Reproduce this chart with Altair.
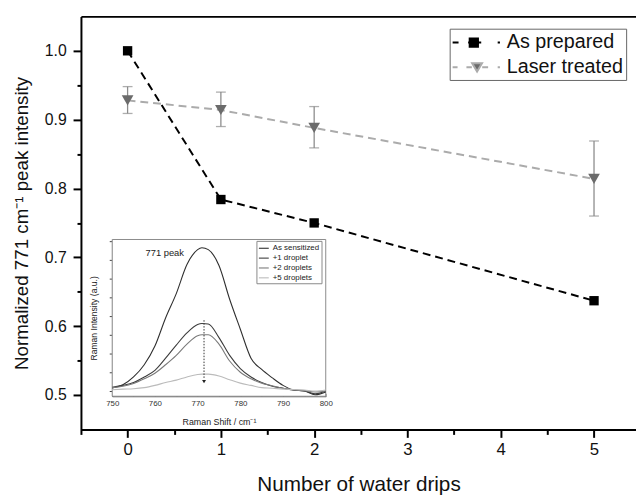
import altair as alt
import pandas as pd

FONT = "Liberation Sans"

# ---------------- main data ----------------
drips = [0, 1, 2, 5]
as_prepared = [1.000, 0.784, 0.750, 0.637]
laser_treated = [0.928, 0.914, 0.888, 0.814]
laser_lo = [0.909, 0.890, 0.859, 0.760]
laser_hi = [0.948, 0.940, 0.919, 0.869]
series_names = ["As prepared", "Laser treated"]

x_ticks = [-0.5, 0, 0.5, 1, 1.5, 2, 2.5, 3, 3.5, 4, 4.5, 5]
y_ticks = [0.5, 0.55, 0.6, 0.65, 0.7, 0.75, 0.8, 0.85, 0.9, 0.95, 1.0]
x_domain = [-0.5, 5.45]
y_domain = [0.45, 1.05]

# ---------------- inset data ----------------
raman_shift = [750, 752.5, 755, 757.5, 760, 762.5, 765, 767.5, 770, 771, 772.5,
               775, 777.5, 780, 782.5, 785, 787.5, 790, 792.5, 795, 797.5, 800]
as_sensitized = [0.16, 0.33, 0.75, 1.4, 2.4, 3.9, 5.2, 6.75, 7.55, 7.65, 7.55,
                 6.7, 4.9, 3.3, 1.75, 1.15, 0.7, 0.3, 0.05, 0.0, -0.2, -0.05]
plus1 = [0.2, 0.3, 0.45, 0.75, 1.1, 1.75, 2.45, 3.1, 3.55, 3.6, 3.58,
         2.85, 1.9, 1.2, 0.75, 0.45, 0.25, 0.15, 0.05, 0.0, -0.15, 0.0]
plus2 = [0.18, 0.25, 0.4, 0.65, 0.95, 1.4, 1.9, 2.5, 2.95, 3.0, 3.0,
         2.5, 1.6, 1.0, 0.65, 0.42, 0.28, 0.15, 0.05, 0.02, -0.05, 0.0]
plus5 = [0.07, 0.1, 0.12, 0.18, 0.3, 0.45, 0.58, 0.75, 0.88, 0.9, 0.9,
         0.8, 0.6, 0.42, 0.3, 0.18, 0.15, 0.1, 0.08, 0.05, 0.0, 0.05]
inset_series = ["As sensitized", "+1 droplet", "+2 droplets", "+5 droplets"]
inset_colors = ["#2e2e2e", "#3c3c3c", "#7a7a7a", "#bbbbbb"]
inset_x_domain = [750, 800]
inset_y_domain = [-0.28, 8.09]
inset_x_ticks = [750, 755, 760, 765, 770, 775, 780, 785, 790, 795, 800]
inset_x_labels = [750, 760, 770, 780, 790, 800]
inset_y_ticks = [0, 1, 2, 3, 4, 5, 6, 7, 8]
arrow_shift = [771.5]
arrow_top = [3.78]
arrow_bottom = [0.62]
arrow_head = [0.5]
peak_label = ["771 peak"]
peak_label_x = [762.3]
peak_label_y = [7.37]

# ---------------- frames ----------------
ap_df = pd.DataFrame({"drips": drips, "value": as_prepared})
lt_df = pd.DataFrame({"drips": drips, "value": laser_treated, "lo": laser_lo, "hi": laser_hi})
caps_df = pd.DataFrame({"drips": drips + drips, "value": laser_lo + laser_hi})
legend_df = pd.DataFrame({"series": series_names})

rows = []
for name, vals in zip(inset_series, [as_sensitized, plus1, plus2, plus5]):
    for s, v in zip(raman_shift, vals):
        rows.append({"shift": s, "intensity": v, "spectrum": name})
inset_df = pd.DataFrame(rows)
frame_df = pd.DataFrame({"x0": [inset_x_domain[0]], "x1": [inset_x_domain[1]],
                         "y0": [inset_y_domain[0]], "y1": [inset_y_domain[1]]})
arrow_df = pd.DataFrame({"shift": arrow_shift, "top": arrow_top, "bottom": arrow_bottom,
                         "head": arrow_head})
label_df = pd.DataFrame({"shift": peak_label_x, "y": peak_label_y, "text": peak_label})

# ---------------- scales / axes ----------------
xs = alt.Scale(domain=x_domain, nice=False, zero=False)
ys = alt.Scale(domain=y_domain, nice=False, zero=False)


def X(axis=None, field="drips:Q"):
    return alt.X(field, scale=xs, axis=axis)


def Y(axis=None, field="value:Q"):
    return alt.Y(field, scale=ys, axis=axis)


main_x_axis = alt.Axis(
    orient="bottom", values=x_ticks,
    tickSize={"condition": {"test": "datum.value % 1 === 0", "value": 8}, "value": 5},
    tickWidth=2, tickColor="black", domainColor="black", domainWidth=2,
    labelExpr="datum.value % 1 === 0 ? format(datum.value, 'd') : ''",
    labelFontSize=17, labelFont=FONT, labelColor="#111", labelPadding=4,
    labelFlush=False, labelOverlap=False,
    title="Number of water drips", titleFontSize=21, titleFont=FONT,
    titleFontWeight="normal", titleColor="#111", titlePadding=17, grid=False)

main_y_axis = alt.Axis(
    orient="left", values=y_ticks,
    tickSize={"condition": {"test": "abs(datum.value*10 - round(datum.value*10)) < 0.001", "value": 8}, "value": 4},
    tickWidth=2, tickColor="black", domainColor="black", domainWidth=2,
    labelExpr="abs(datum.value*10 - round(datum.value*10)) < 0.001 ? format(datum.value, '.1f') : ''",
    labelFontSize=16, labelFont=FONT, labelColor="#111", labelPadding=7,
    labelFlush=False, labelOverlap=False,
    title="Normalized 771 cm\u207b\u00b9 peak intensity", titleFontSize=19, titleFont=FONT,
    titleFontWeight="normal", titleColor="#111", titlePadding=13, grid=False)

top_axis = alt.Axis(orient="top", ticks=False, labels=False, domain=True,
                    domainColor="black", domainWidth=2, title=None, grid=False)

ap_path = "M-1.1,0L-0.5,0M0.47,0L1.8,0M0.63,-0.42L1.47,-0.42L1.47,0.42L0.63,0.42ZM3.47,0L3.7,0"
lt_path = "M-1.1,0L-0.6,0M0.3,0L0.85,0M1.9,0L2.5,0M0.88,-0.4L1.88,-0.4L1.38,0.45ZM3.47,0L3.7,0"

main_legend = alt.Legend(
    orient="none", legendX=374, legendY=12.5, title=None,
    labelFontSize=20, labelFont=FONT, labelColor="#111", labelLimit=400,
    symbolSize=400, symbolStrokeWidth=2, labelOffset=33,
    padding=3, rowPadding=4, strokeColor="#666666", fillColor="white")

# ---------------- main layers ----------------
l_ap = alt.Chart(ap_df).mark_line(color="black", strokeWidth=2, strokeDash=[8, 5]).encode(
    x=X(main_x_axis), y=Y(main_y_axis))
l_lt = alt.Chart(lt_df).mark_line(color="#ababab", strokeWidth=2, strokeDash=[8, 5]).encode(
    x=X(top_axis), y=Y())
l_err = alt.Chart(lt_df).mark_rule(color="#8c8c8c", strokeWidth=1.3).encode(
    x=X(), y=alt.Y("lo:Q", scale=ys, axis=None), y2="hi:Q")
l_caps = alt.Chart(caps_df).mark_tick(orient="horizontal", size=10, thickness=1.3,
                                      color="#8c8c8c").encode(x=X(), y=Y())
p_ap = alt.Chart(ap_df).mark_square(size=90, color="black", opacity=1).encode(x=X(), y=Y())
p_lt = alt.Chart(lt_df).mark_point(shape="triangle-down", filled=True, size=140,
                                   color="#6b6b6b", opacity=1).encode(x=X(), y=Y())
leg = alt.Chart(legend_df).mark_point(filled=True, opacity=1, strokeWidth=2).encode(
    shape=alt.Shape("series:N", scale=alt.Scale(domain=series_names, range=[ap_path, lt_path]),
                    legend=main_legend),
    fill=alt.Fill("series:N", scale=alt.Scale(domain=series_names, range=["black", "#6b6b6b"]),
                  legend=main_legend),
    stroke=alt.Stroke("series:N", scale=alt.Scale(domain=series_names, range=["black", "#ababab"]),
                      legend=main_legend),
).transform_filter("false")

main = alt.layer(l_ap, l_lt, l_err, l_caps, p_ap, p_lt, leg).resolve_axis(
    x="independent", y="independent")

# ---------------- inset ----------------
ixs = alt.Scale(domain=inset_x_domain, range=[31.7, 248.3], nice=False, zero=False)
iys = alt.Scale(domain=inset_y_domain, range=[385.3, 226.3], nice=False, zero=False)

inset_x_axis = alt.Axis(
    orient="bottom", offset=-33.7, values=inset_x_labels, ticks=False,
    labelFontSize=8, labelFont=FONT, labelColor="#333", labelPadding=3, labelFlush=False,
    domainColor="#444", domainWidth=1,
    title="Raman Shift / cm\u207b\u00b9", titleFontSize=9, titleFont=FONT,
    titleFontWeight="normal", titleColor="#222", titlePadding=11, grid=False)
inset_y_axis = alt.Axis(
    orient="left", offset=-31.7, values=inset_y_ticks, tickSize=3, tickColor="#444",
    tickWidth=1, labels=False, domainColor="#444", domainWidth=1,
    title="Raman Intensity (a.u.)", titleFontSize=8.7, titleFont=FONT,
    titleFontWeight="normal", titleColor="#222", titlePadding=10, grid=False)
inset_tick_axis = alt.Axis(
    orient="top", offset=-385.3, values=inset_x_ticks,
    tickSize={"condition": {"test": "datum.value % 10 === 0", "value": 3}, "value": 2},
    tickColor="#444", tickWidth=1, labels=False, domain=False, title=None, grid=False)

inset_legend = alt.Legend(
    orient="none", legendX=178, legendY=227.7, title=None, symbolType="stroke",
    symbolSize=100, symbolStrokeWidth=1.1, labelFontSize=8, labelFont=FONT,
    labelColor="#222", labelOffset=3, padding=1.5, rowPadding=0,
    strokeColor="#888888", fillColor="white")

i_frame = alt.Chart(frame_df).mark_rect(fill="white", stroke="#8a8a8a", strokeWidth=1).encode(
    x=alt.X("x0:Q", scale=ixs, axis=None), x2="x1:Q",
    y=alt.Y("y0:Q", scale=iys, axis=None), y2="y1:Q")
i_lines = alt.Chart(inset_df).mark_line(strokeWidth=1.1, interpolate="monotone").encode(
    x=alt.X("shift:Q", scale=ixs, axis=inset_x_axis),
    y=alt.Y("intensity:Q", scale=iys, axis=inset_y_axis),
    color=alt.Color("spectrum:N", scale=alt.Scale(domain=inset_series, range=inset_colors),
                    legend=inset_legend),
    order="shift:Q")
i_arrow = alt.Chart(arrow_df).mark_rule(strokeDash=[1.5, 1.5], color="#333", strokeWidth=1).encode(
    x=alt.X("shift:Q", scale=ixs, axis=inset_tick_axis),
    y=alt.Y("top:Q", scale=iys, axis=None), y2="bottom:Q")
i_head = alt.Chart(arrow_df).mark_point(shape="triangle-down", filled=True, size=16,
                                        color="#222", opacity=1).encode(
    x=alt.X("shift:Q", scale=ixs, axis=None), y=alt.Y("head:Q", scale=iys, axis=None))
i_text = alt.Chart(label_df).mark_text(fontSize=9.5, font=FONT, color="#222").encode(
    x=alt.X("shift:Q", scale=ixs, axis=None), y=alt.Y("y:Q", scale=iys, axis=None),
    text="text:N")

inset = alt.layer(i_frame, i_lines, i_arrow, i_head, i_text).resolve_axis(
    x="independent", y="independent")

chart = alt.layer(main, inset).resolve_scale(
    x="independent", y="independent"
).properties(
    width=563, height=419,
    padding={"left": 74, "top": 5, "right": 0, "bottom": 65},
    autosize="none",
).configure_view(stroke=None).configure(background="white")

chart.save("out.html", embed_options={"renderer": "svg", "actions": False})
